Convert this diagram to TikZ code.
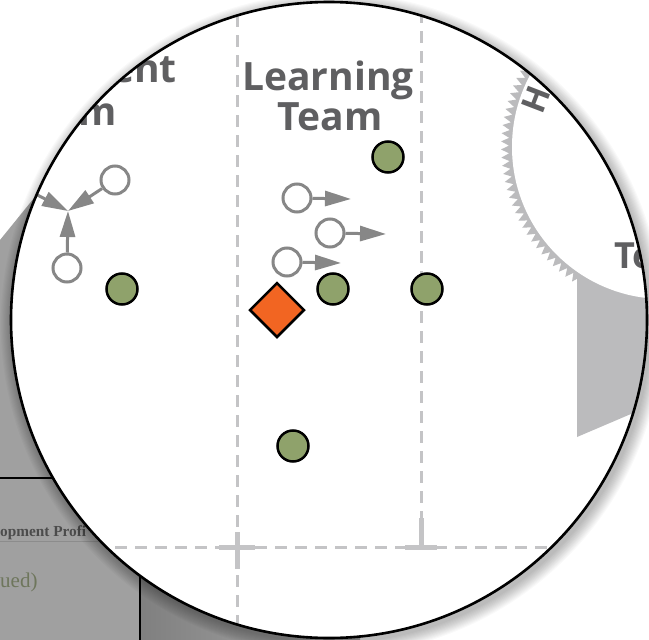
\documentclass[tikz,border=0pt]{standalone}
\usepackage{fontspec}
\setmainfont{Open Sans}
\newfontfamily\serifb{Liberation Serif}
\usetikzlibrary{shapes.geometric,arrows.meta,decorations.pathmorphing}
\definecolor{grn}{HTML}{8FA26B}
\definecolor{org}{HTML}{F26522}
\definecolor{dashc}{HTML}{C4C4C6}
\definecolor{txt}{HTML}{5F5F61}
\definecolor{mk}{HTML}{878787}
\definecolor{ringc}{HTML}{BBBBBD}
\definecolor{pg}{HTML}{A0A0A0}
\definecolor{olv}{HTML}{6E765C}
\begin{document}
\begin{tikzpicture}[x=1pt,y=-1pt,
  player/.style={circle,draw=black,line width=2.5pt,fill=grn,minimum size=31pt,inner sep=0pt},
  lead/.style={diamond,draw=black,line width=2.5pt,fill=org,minimum width=55pt,minimum height=55pt,inner sep=0pt},
  ghost/.style={circle,draw=mk,line width=3pt,fill=white,minimum size=28pt,inner sep=0pt},
  move/.style={draw=mk,line width=3pt,-{Triangle[length=26pt,width=15pt]},mk},
  guide/.style={draw=dashc,line width=3pt,dash pattern=on 12pt off 8pt},
  crossmark/.style={draw=dashc,line width=5pt},
  title/.style={text=txt,font=\fontsize{39}{39}\selectfont\bfseries,inner sep=0pt}]
\useasboundingbox (0,0) rectangle (649,640);
\fill[white] (0,0) rectangle (649,640);
% page behind the lens
\fill[pg] (0,240) -- (60,166) -- (250,350) -- (360,645) -- (0,645) -- cycle;
\shade[left color=black!50,right color=black!33] (140,560) rectangle (360,645);
\draw[line width=2pt] (0,478) -- (70,478);
\draw[line width=2pt] (140,560) -- (140,645);
\draw[black!45,line width=1pt] (0,541) -- (100,541);
\node[anchor=base west,inner sep=0pt,text=black!70,font=\serifb\fontsize{15.3}{15.3}\selectfont\bfseries] (pf) at (0,536) {opment Profi};
\node[anchor=base west,inner sep=0pt,text=olv,font=\serifb\fontsize{21}{21}\selectfont] (ct) at (0,587) {ued)};
% shadow
\foreach \i in {1,...,12}{
  \fill[black,opacity=0.022] (332,324) circle ({318pt+\i*1.1pt});
}
\fill[white] (329,320) circle (318pt);
\begin{scope}
\clip (329,320) circle (318pt);
% ring
\fill[ringc,decorate,decoration={zigzag,segment length=8pt,amplitude=4pt}] (664,147) circle (159pt);
\fill[ringc] (577,250) -- (577,437) -- (720,376) -- (720,250) -- cycle;
\fill[white] (664,147) circle (152pt);
\node[text=txt,font=\fontsize{33}{33}\selectfont\bfseries,rotate=69,inner sep=0pt] (hh) at (536,99) {H};
\node[anchor=base west,text=txt,font=\fontsize{36}{36}\selectfont\bfseries,inner sep=0pt] (te) at (614,268) {Te};
% guides
\draw[guide] (237,-5) -- (237,645);
\draw[guide,dash phase=4pt] (421,-5) -- (421,520);
\draw[guide] (95,547) -- (570,547);
\draw[crossmark] (219,547) -- (255,547);
\draw[crossmark] (237,532) -- (237,569);
\draw[crossmark] (421,518) -- (421,547);
\draw[crossmark] (405,547) -- (437,547);
% titles
\node[title,anchor=base] (lt1) at (328,90) {Learning};
\node[title,anchor=base] (lt2) at (330,130) {Team};
\node[title,anchor=base east] (dt1) at (177,82) {ent};
\node[title,anchor=base east] (dt2) at (117,125) {am};
% left group
\node[ghost] (ga) at (115,180) {};
\node[ghost] (gb) at (67,268) {};
\coordinate (gc) at (5,178);
\coordinate (meet) at (68,211);
\draw[move] (gb) -- (meet);
\draw[move] (ga) -- (meet);
\draw[move] (gc) -- (meet);
\node[player] (p1) at (122,289) {};
% learning team
\node[ghost] (g1) at (297,198) {};
\node[ghost] (g2) at (330,233) {};
\node[ghost] (g3) at (287,262) {};
\coordinate (t1) at (351,199);
\coordinate (t2) at (386,234);
\coordinate (t3) at (341,263);
\draw[move] (g1) -- (t1);
\draw[move] (g2) -- (t2);
\draw[move] (g3) -- (t3);
\node[player] (p2) at (388,157) {};
\node[player] (p3) at (333,289) {};
\node[player] (p4) at (427,289) {};
\node[player] (p5) at (293,446) {};
\node[lead] (ld) at (277,310) {};
\end{scope}
\draw[line width=2.6pt] (329,320) circle (318pt);
\end{tikzpicture}
\end{document}
